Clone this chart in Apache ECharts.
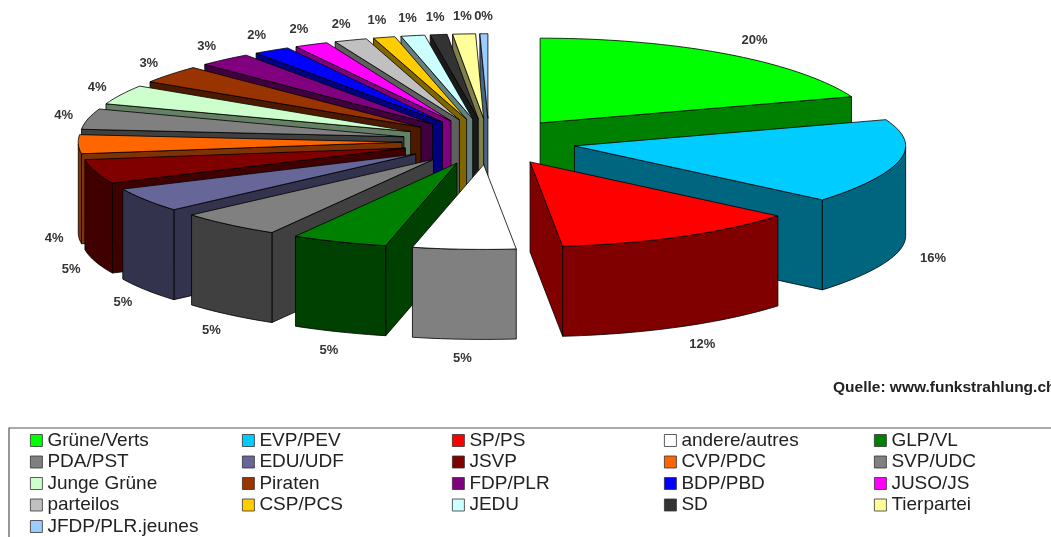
<!DOCTYPE html>
<html><head><meta charset="utf-8"><style>html,body{margin:0;padding:0;background:#fff}#c{width:1051px;height:537px}</style>
<script src="https://cdn.jsdelivr.net/npm/echarts@6/dist/echarts.min.js"></script></head><body><div id="c"></div>
<script>
const names = ['Grüne/Verts','EVP/PEV','SP/PS','andere/autres','GLP/VL','PDA/PST','EDU/UDF','JSVP','CVP/PDC','SVP/UDC','Junge Grüne','Piraten','FDP/PLR','BDP/PBD','JUSO/JS','parteilos','CSP/PCS','JEDU','SD','Tierpartei','JFDP/PLR.jeunes'];
const values = [20,16,12.4,5.2,4.85,5.2,4.6,4.6,3.6,3.9,3.7,3.4,2.7,1.85,1.7,1.65,1.1,1.2,0.85,1.15,0.4];
const tops = ['#00ff00','#00ccff','#ff0000','#ffffff','#008000','#808080','#666699','#800000','#ff6600','#808080','#ccffcc','#993300','#800080','#0000ff','#ff00ff','#c0c0c0','#ffcc00','#ccffff','#333333','#ffff99','#99ccff'];
const walls = ['#008000','#006680','#800000','#808080','#004000','#404040','#33334d','#400000','#803300','#404040','#668066','#4d1a00','#400040','#000080','#800080','#606060','#806600','#668080','#1a1a1a','#80804d','#4d6680'];

const total = values.reduce((a,b)=>a+b,0);
const CX=489, CY=141.6, R=320, K=0.265, EXPL=87, H=90;
let run=0;
const slices = values.map(v=>{const a0=run/total*Math.PI*2; run+=v; const a1=run/total*Math.PI*2; return {a0,a1,mid:(a0+a1)/2};});
const lineStyle={stroke:'#000',lineWidth:0.8,lineJoin:'round'};
function renderSlice(i){
  return function(params,api){
    const s=slices[i];
    const ax=CX+EXPL*Math.sin(s.mid), ay=CY-EXPL*K*Math.cos(s.mid);
    const P=a=>{const sn=Math.sin(a);return [ax+R*sn*(1+(sn>0?0.035:0.012)*Math.pow(sn,8)), ay-R*K*Math.cos(a)];};
    const n=Math.max(3,Math.ceil((s.a1-s.a0)/0.03));
    const arc=[]; for(let j=0;j<=n;j++) arc.push(s.a0+(s.a1-s.a0)*j/n);
    const children=[];
    const wallFill={fill:walls[i],...lineStyle};
    const quad=(p,q)=>({type:'polygon',shape:{points:[p,q,[q[0],q[1]+H],[p[0],p[1]+H]]},style:wallFill,silent:true});
    const ps=P(s.a0), pe=P(s.a1), A=[ax,ay];
    if(ps[0]<ax-0.01) children.push(quad(A,ps));
    if(pe[0]>ax+0.01) children.push(quad(pe,A));
    const vis=arc.filter(a=>Math.cos(a)<0);
    if(vis.length>1){
      const t=vis.map(P), b=t.map(p=>[p[0],p[1]+H]).reverse();
      children.push({type:'polygon',shape:{points:t.concat(b)},style:wallFill,silent:true});
    }
    children.push({type:'polygon',shape:{points:[A].concat(arc.map(P))},style:{fill:tops[i],...lineStyle},silent:true});
    const c=Math.cos(s.mid), sn=Math.sin(s.mid);
    const lx=ax+(sn>0?365:348)*sn;
    const ly=c>=0? ay-102*c : ay-100*c+94;
    children.push({type:'text',z2:100,style:{x:lx,y:ly,text:Math.round(values[i])+'%',fill:'#333',font:'bold 13px "Liberation Sans"',align:'center',verticalAlign:'middle'},silent:true});
    return {type:'group',children};
  };
}
const order=slices.map((s,i)=>[i,Math.cos(s.mid)]).sort((a,b)=>b[1]-a[1]).map(d=>d[0]);
const series=names.map((name,i)=>({
  type:'custom',name,coordinateSystem:'none',silent:true,
  z:2+order.indexOf(i),
  data:[[values[i]]],
  renderItem:renderSlice(i),
  itemStyle:{color:tops[i]}
}));
const colLeft=[30,242,452,664,874];
const legend=colLeft.map((left,c)=>({
  orient:'vertical',left,top:431,height:120,icon:'rect',itemWidth:12,itemHeight:12,itemGap:2.5,padding:0,selectedMode:false,
  data:names.filter((_,i)=>i%5===c),
  itemStyle:{borderColor:'#333',borderWidth:0.8},
  textStyle:{fontFamily:'Liberation Sans',fontSize:19,color:'#222'}
}));
const chart=echarts.init(document.getElementById('c'),null,{renderer:'canvas'});
chart.setOption({
  animation:false,backgroundColor:'#fff',
  title:{text:'Quelle: www.funkstrahlung.ch',left:833,top:380,padding:0,textStyle:{fontFamily:'Liberation Sans',fontSize:15.5,fontWeight:'bold',color:'#222'}},
  legend,series,
  graphic:[{type:'rect',shape:{x:9,y:428,width:1100,height:140},style:{fill:'none',stroke:'#555',lineWidth:1.2},silent:true,z:0}]
});
</script></body></html>
